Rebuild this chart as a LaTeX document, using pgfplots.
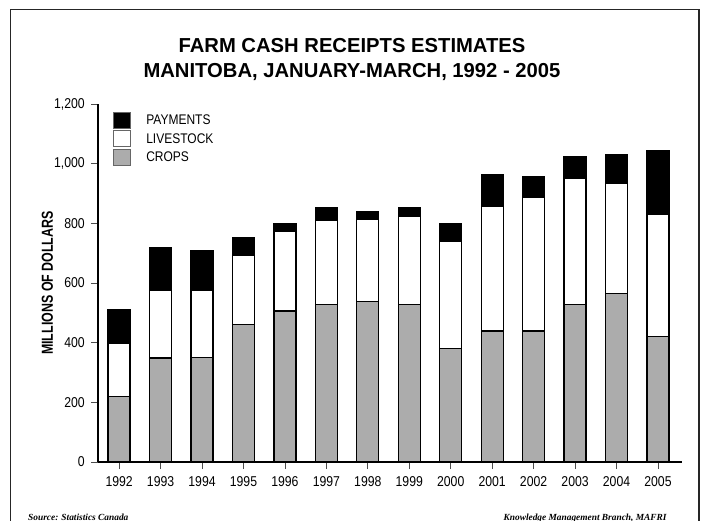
\documentclass[border=0pt]{standalone}
\usepackage{fontspec}
\usepackage{pgfplots}
\pgfplotsset{compat=1.18}

\setmainfont{Liberation Sans}
\newfontfamily\tickfont{Liberation Sans}[FakeStretch=0.86]
\newfontfamily\labfont{Liberation Sans}[FakeStretch=0.78]
\newfontfamily\footfont{Liberation Serif}

\definecolor{cropgray}{RGB}{172,172,172}

\begin{document}
\begin{tikzpicture}
\path[use as bounding box] (0bp,0bp) rectangle (702bp,521bp);

% frame of the slide
\draw[line width=1.6bp, black!85] (10.3bp,-5bp) -- (10.3bp,511.5bp) -- (698.8bp,511.5bp) -- (698.8bp,-5bp);

% title
\node[font=\bfseries\fontsize{20.3}{24}\selectfont, anchor=base] at (352bp,468.3bp) {FARM CASH RECEIPTS ESTIMATES};
\node[font=\bfseries\fontsize{20.3}{24}\selectfont, anchor=base] at (352bp,443.3bp) {MANITOBA, JANUARY-MARCH, 1992 - 2005};

% footer
\node[font=\footfont\bfseries\itshape\fontsize{9.4}{11}\selectfont, anchor=base west, inner sep=0pt] at (28bp,1bp) {Source: Statistics Canada};
\node[font=\footfont\bfseries\itshape\fontsize{9.4}{11}\selectfont, anchor=base east, inner sep=0pt] at (666.7bp,1bp) {Knowledge Management Branch, MAFRI};

\begin{axis}[
    scale only axis,
    width=584bp, height=358bp,
    at={(98bp,59bp)}, anchor=south west,
    ybar stacked,
    bar width=22bp,
    xmin=-0.51, xmax=13.58,
    ymin=0, ymax=1200,
    axis x line*=bottom,
    axis y line*=left,
    x axis line style={line width=2bp, -},
    y axis line style={line width=2.6bp, -},
    xtick={0,...,13},
    xticklabels={1992,1993,1994,1995,1996,1997,1998,1999,2000,2001,2002,2003,2004,2005},
    ytick={0,200,...,1200},
    scaled y ticks=false,
    tick align=outside,
    major tick length=7bp,
    tick style={line width=0.8bp, black!70},
    minor tick num=0,
    /pgf/number format/.cd, 1000 sep={,}, assume math mode=true,
    /pgfplots/.cd,
    xticklabel style={font=\tickfont\fontsize{14.3}{16}\selectfont, anchor=north, inner sep=0pt, yshift=-7.5bp},
    yticklabel style={font=\tickfont\fontsize{14.3}{16}\selectfont, anchor=east, inner sep=0pt, xshift=-6bp},
    ylabel={MILLIONS OF DOLLARS},
    every axis y label/.style={at={(rel axis cs:0,0.5)}, xshift=-50.5bp, rotate=90, anchor=center,
        font=\labfont\bfseries\fontsize{16}{18}\selectfont},
    reverse legend,
    legend cell align=left,
    legend image code/.code={\draw[#1, draw=black!60, line width=1bp] (0bp,-8bp) rectangle (17bp,8bp);},
    legend style={at={(0.0262,0.9785)}, anchor=north west, draw=none, fill=none,
        inner sep=0pt, outer sep=0pt, row sep=1.8bp,
        font=\tickfont\fontsize{14}{16}\selectfont,
        nodes={inner sep=0pt},
        /tikz/every odd column/.append style={column sep=15bp}},
    clip=false,
]

% CROPS
\addplot[draw=black, line width=1.3bp, fill=cropgray] coordinates {
    (0,220) (1,349) (2,351) (3,462) (4,506) (5,528) (6,539)
    (7,528) (8,381) (9,439) (10,439) (11,528) (12,564) (13,421)
};
% LIVESTOCK
\addplot[draw=black, line width=1.3bp, fill=white] coordinates {
    (0,179) (1,228) (2,224) (3,230) (4,267) (5,281) (6,275)
    (7,297) (8,357) (9,418) (10,447) (11,424) (12,370) (13,410)
};
% PAYMENTS
\addplot[draw=black, line width=1.3bp, fill=black] coordinates {
    (0,111) (1,141) (2,135) (3,61) (4,27) (5,45) (6,26)
    (7,28) (8,61) (9,107) (10,69) (11,73) (12,95) (13,211)
};

\legend{CROPS,LIVESTOCK,PAYMENTS}
\end{axis}
\end{tikzpicture}
\end{document}
